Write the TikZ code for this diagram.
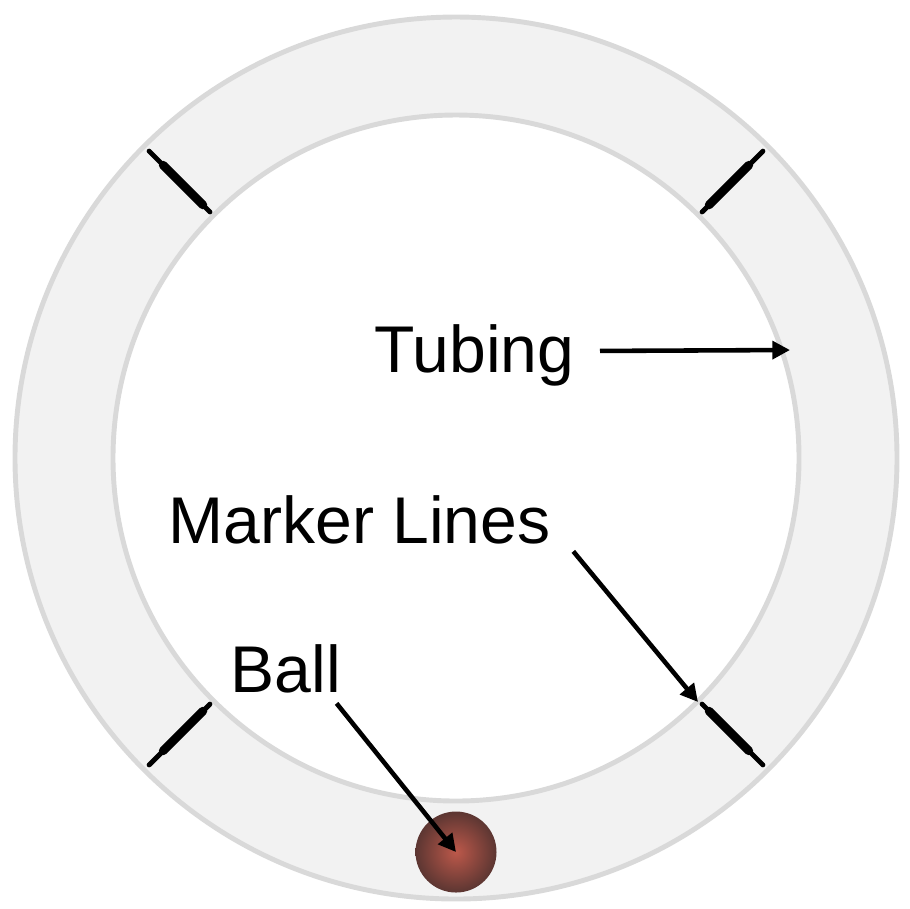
\documentclass[tikz,border=0pt]{standalone}
\usepackage{fontspec}
\setmainfont{Liberation Sans}
\usetikzlibrary{arrows.meta}
\usetikzlibrary{positioning}
\usetikzlibrary{calc}
\definecolor{tubefill}{HTML}{F2F2F2}
\definecolor{ringgray}{HTML}{D9D9D9}
\definecolor{ballred}{HTML}{BC584A}
\definecolor{balldark}{HTML}{5C3632}

\begin{document}
\begin{tikzpicture}[tubewall/.style={draw=ringgray, line width=1.4pt},
				markline/.style={black, line cap=round},
				tag/.style={inner sep=0pt, anchor=base west, font=\fontsize{18.8}{22}\selectfont},
				pointer/.style={-{Triangle[length=5pt, width=5pt]}, line width=1.3pt}]
				\useasboundingbox (0,0) rectangle (9.10,-9.08);
				\coordinate (centre) at (4.56,-4.58);
				
				% tubing ring
				\fill[tubefill, even odd rule] (centre) circle (4.41) (centre) circle (3.43);
				\draw[tubewall] (centre) circle (4.41);
				\draw[tubewall] (centre) circle (3.43);
				
				% marker lines
				\foreach \a in {45,135,225,315} {
					\draw[markline, line width=1.4pt] ($(centre)+(\a:3.48)$) -- ($(centre)+(\a:4.34)$);
					\draw[markline, line width=2.5pt] ($(centre)+(\a:3.58)$) -- ($(centre)+(\a:4.14)$);
				}
				
				\node[circle, minimum size=0.81cm, inner sep=0pt, shading=radial, inner color=ballred, outer color=balldark](ball) at (4.56,-8.52) {};
				
				\node[tag](tubing) at (3.74,-3.72) {Tubing};
				\node[tag](markers) at (1.68,-5.43) {Marker Lines};
				\node[tag](balltext) at (2.30,-6.92) {Ball};
				
				\coordinate (tubingtip) at (7.90,-3.50);
				\coordinate (markertip) at (6.98,-7.02);
				
				\draw[pointer] ($(tubing.east)+(0.25,0.04)$) -- (tubingtip);
				\draw[pointer] ($(markers.south east)+(0.22,-0.07)$) -- (markertip);
				\draw[pointer] ($(balltext.south east)+(-0.05,-0.1)$) -- (ball.center);
				
			\end{tikzpicture}
\end{document}
